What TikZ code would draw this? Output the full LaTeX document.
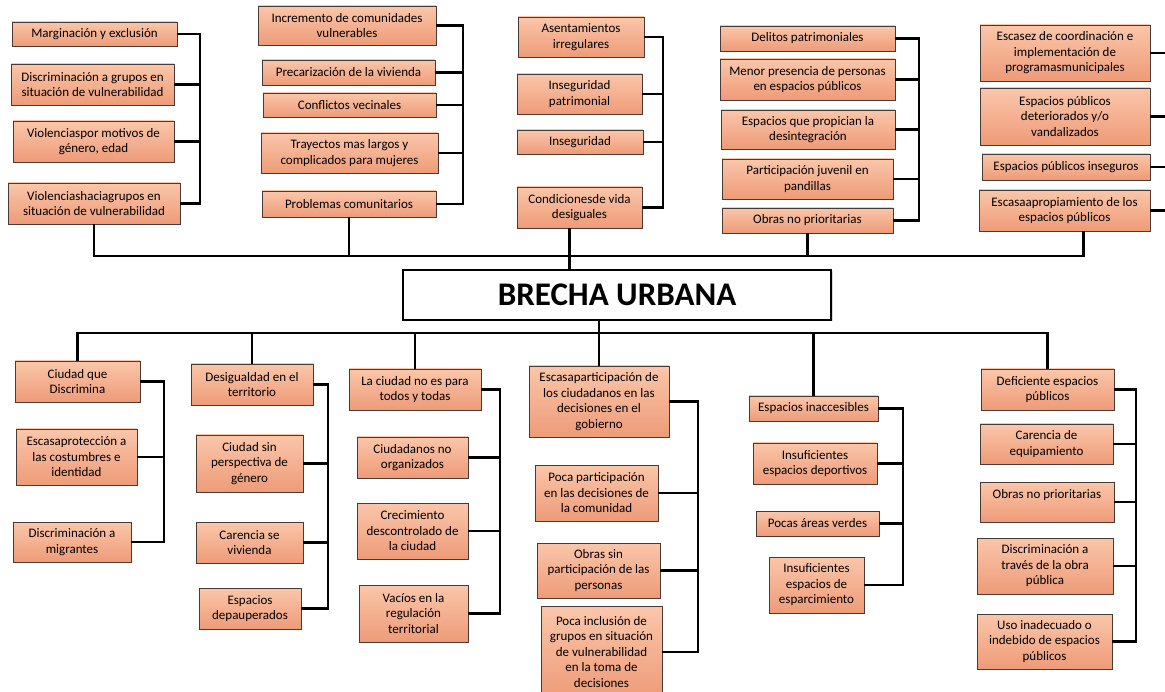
\documentclass[tikz,border=0pt]{standalone}
\usepackage{fontspec}
\setmainfont{Carlito}
\usepackage{tikz}
\usetikzlibrary{positioning,shadows}
\definecolor{salmontop}{HTML}{FAC6AA}
\definecolor{salmonbot}{HTML}{EE9B78}
\definecolor{boxborder}{HTML}{4A3A35}
\tikzset{
  caja/.style={draw=boxborder, line width=0.8pt, top color=salmontop, bottom color=salmonbot, align=center,
               inner sep=1pt, font=\fontsize{13}{15.5}\selectfont,
               drop shadow={opacity=0.25, shadow xshift=1.2pt, shadow yshift=-1.2pt}},
  tam/.style 2 args={minimum width=#1pt, minimum height=#2pt},
  titulo/.style={draw, line width=1.4pt, fill=white, font=\fontsize{33}{36}\selectfont\bfseries,
               drop shadow={opacity=0.3, shadow xshift=1.5pt, shadow yshift=-1.5pt}},
  linea/.style={line width=2.6pt},
}
\begin{document}
\begin{tikzpicture}[x=1pt, y=-1pt]
  \useasboundingbox[fill=white] (0,0) rectangle (1165,692);
  \node[titulo, tam={428}{50}] (br) at (617,295) {BRECHA URBANA};

  \node[caja, tam={165}{24}] (a1) at (94.5,34) {Marginación y exclusión};
  \node[caja, tam={163}{41}] (a2) at (92.5,84.5) {Discriminación a grupos en\\situación de vulnerabilidad};
  \node[caja, tam={161}{41}] (a3) at (93.5,141.5) {Violenciaspor motivos de\\género, edad};
  \node[caja, tam={172}{41}] (a4) at (94,203.5) {Violenciashaciagrupos en\\situación de vulnerabilidad};

  \node[caja, tam={178}{39}] (b1) at (347,25.5) {Incremento de comunidades\\vulnerables};
  \node[caja, tam={173}{25}] (b2) at (348.5,72.5) {Precarización de la vivienda};
  \node[caja, tam={173}{24}] (b3) at (349.5,105) {Conflictos vecinales};
  \node[caja, tam={177}{40}] (b4) at (349.5,153) {Trayectos mas largos y\\complicados para mujeres};
  \node[caja, tam={174}{26}] (b5) at (349,204) {Problemas comunitarios};

  \node[caja, tam={126}{40}] (c1) at (581,37) {Asentamientos\\irregulares};
  \node[caja, tam={125}{40}] (c2) at (579.5,94) {Inseguridad\\patrimonial};
  \node[caja, tam={126}{24}] (c3) at (580,142) {Inseguridad};
  \node[caja, tam={125}{41}] (c4) at (579.5,207.5) {Condicionesde vida\\desiguales};

  \node[caja, tam={175}{25}] (d1) at (807.5,38.5) {Delitos patrimoniales};
  \node[caja, tam={175}{41}] (d2) at (807.5,79.5) {Menor presencia de personas\\en espacios públicos};
  \node[caja, tam={174}{39}] (d3) at (808,129.5) {Espacios que propician la\\desintegración};
  \node[caja, tam={171}{40}] (d4) at (807.5,179) {Participación juvenil en\\pandillas};
  \node[caja, tam={171}{25}] (d5) at (807.5,220.5) {Obras no prioritarias};

  \node[caja, tam={170}{56}] (e1) at (1065,53) {Escasez de coordinación e\\implementación de\\programasmunicipales};
  \node[caja, tam={170}{57}] (e2) at (1065,116.5) {Espacios públicos\\deteriorados y/o\\vandalizados};
  \node[caja, tam={168}{26}] (e3) at (1066,167) {Espacios públicos inseguros};
  \node[caja, tam={171}{41}] (e4) at (1064.5,210.5) {Escasaapropiamiento de los\\espacios públicos};

  \node[caja, tam={125}{41}] (f1) at (77.5,381.5) {Ciudad que\\Discrimina};
  \node[caja, tam={121}{56}] (f2) at (76.5,457) {Escasaprotección a\\las costumbres e\\identidad};
  \node[caja, tam={118}{40}] (f3) at (72,542) {Discriminación a\\migrantes};

  \node[caja, tam={122}{41}] (g1) at (252,384.5) {Desigualdad en el\\territorio};
  \node[caja, tam={107}{57}] (g2) at (249.5,463.5) {Ciudad sin\\perspectiva de\\género};
  \node[caja, tam={107}{41}] (g3) at (249.5,542.5) {Carencia se\\vivienda};
  \node[caja, tam={102}{41}] (g4) at (250,608.5) {Espacios\\depauperados};

  \node[caja, tam={132}{41}] (h1) at (415,389.5) {La ciudad no es para\\todos y todas};
  \node[caja, tam={111}{41}] (h2) at (412.5,457.5) {Ciudadanos no\\organizados};
  \node[caja, tam={111}{56}] (h3) at (412.5,531) {Crecimiento\\descontrolado de\\la ciudad};
  \node[caja, tam={109}{57}] (h4) at (413.5,613.5) {Vacíos en la\\regulación\\territorial};

  \node[caja, tam={140}{71}] (i1) at (599,401.5) {Escasaparticipación de\\los ciudadanos en las\\decisiones en el\\gobierno};
  \node[caja, tam={123}{56}] (i2) at (596.5,493) {Poca participación\\en las decisiones de\\la comunidad};
  \node[caja, tam={123}{55}] (i3) at (598.5,570.5) {Obras sin\\participación de las\\personas};
  \node[caja, tam={121}{92}] (i4) at (601.5,652) {Poca inclusión de\\grupos en situación\\de vulnerabilidad\\en la toma de\\decisiones};

  \node[caja, tam={129}{25}] (j1) at (813.5,408.5) {Espacios inaccesibles};
  \node[caja, tam={124}{41}] (j2) at (815,463.5) {Insuficientes\\espacios deportivos};
  \node[caja, tam={123}{25}] (j3) at (817.5,523.5) {Pocas áreas verdes};
  \node[caja, tam={95}{56}] (j4) at (816.5,585) {Insuficientes\\espacios de\\esparcimiento};

  \node[caja, tam={133}{41}] (k1) at (1047.5,389.5) {Deficiente espacios\\públicos};
  \node[caja, tam={133}{40}] (k2) at (1046.5,444) {Carencia de\\equipamiento};
  \node[caja, tam={134}{40}] (k3) at (1047,502) {Obras no prioritarias\\\mbox{}};
  \node[caja, tam={136}{56}] (k4) at (1045,566) {Discriminación a\\través de la obra\\pública};
  \node[caja, tam={135}{55}] (k5) at (1044.5,641.5) {Uso inadecuado o\\indebido de espacios\\públicos};

  \coordinate (bt) at (0,256); \coordinate (bb) at (0,333);
  \draw[linea] (a4.south) |- ([xshift=19pt]e4.south |- bt) -- ([xshift=19pt]e4.south);
  \draw[linea] (b5.south) -- (b5.south |- bt); \draw[linea] (d5.south) -- (d5.south |- bt);
  \draw[linea] ([xshift=-10pt]c4.south) -- ([xshift=-10pt]c4.south |- br.north);
  \draw[linea] (f1.north) |- (k1.north |- bb) -- (k1.north);
  \foreach \n in {g1,h1,j1} \draw[linea] (\n.north) -- (\n.north |- bb);
  \draw[linea] (br.south -| i1.north) -- (i1.north);

  \foreach \g/\x/\last in {a/200/4,b/463/5,c/663/4,d/919/5,e/1172/4,f/164/3,g/328/4,h/500/4,i/698/4,j/903/4,k/1136/5}{
    \coordinate (v\g) at (\x,0);
    \draw[linea] (\g1.east) -| (v\g |- \g\last.east) -- (\g\last.east);
    \foreach \k in {2,...,\last} \draw[linea] (\g\k.east) -- (v\g |- \g\k.east);
  }
\end{tikzpicture}
\end{document}
